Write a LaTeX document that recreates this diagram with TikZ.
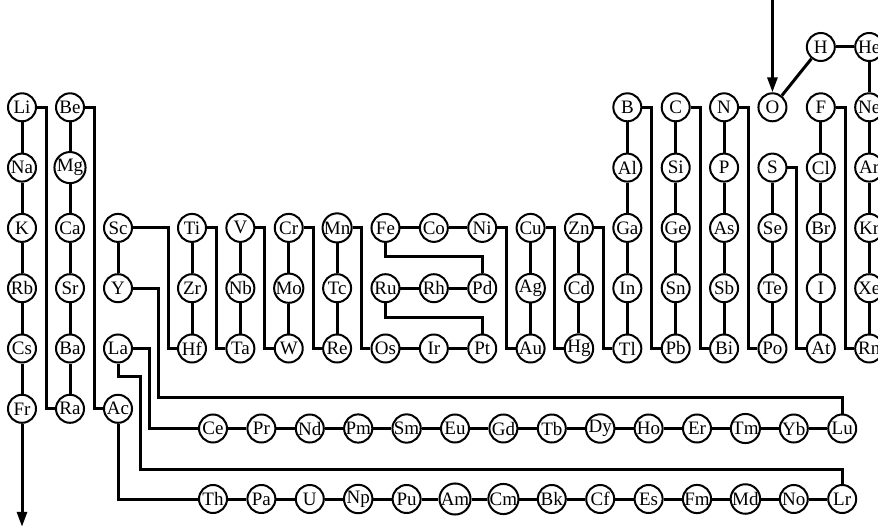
\documentclass[tikz,border=0pt]{standalone}
\usepackage{fontspec}
\setmainfont{Liberation Serif}
\usetikzlibrary{arrows.meta}

\begin{document}
\begin{tikzpicture}[x=1pt, y=-1pt,
  declare function={colx(\c)=(\c<4)*(22+48*(\c-1))+(\c>=4)*(192+48.37*(\c-4)); rowy(\r)=47+60.3*(\r-1);},
  atom/.style={draw, circle, line width=2pt, minimum size=28pt, inner sep=0pt, fill=white, font=\fontsize{19}{19}\selectfont},
  link/.style={line width=3pt},
  arr/.style={link, -{Triangle[length=15pt, width=10pt]}}]
\useasboundingbox (0,0) rectangle (878,529);

% main table
\node[atom] (H) at ({colx(17)}, {rowy(1)}) {H};
\node[atom] (He) at ({colx(18)}, {rowy(1)}) {He};
\foreach \el/\c in {Li/1, Be/2, B/13, C/14, N/15, O/16, F/17, Ne/18}
  \node[atom] (\el) at ({colx(\c)}, {rowy(2)}) {\el};
\foreach \el/\c in {Na/1, Mg/2, Al/13, Si/14, P/15, S/16, Cl/17, Ar/18}
  \node[atom] (\el) at ({colx(\c)}, {rowy(3)}) {\el};
\foreach \el [count=\c] in {K,Ca,Sc,Ti,V,Cr,Mn,Fe,Co,Ni,Cu,Zn,Ga,Ge,As,Se,Br,Kr}
  \node[atom] (\el) at ({colx(\c)}, {rowy(4)}) {\el};
\foreach \el [count=\c] in {Rb,Sr,Y,Zr,Nb,Mo,Tc,Ru,Rh,Pd,Ag,Cd,In,Sn,Sb,Te,I,Xe}
  \node[atom] (\el) at ({colx(\c)}, {rowy(5)}) {\el};
\foreach \el [count=\c] in {Cs,Ba,La,Hf,Ta,W,Re,Os,Ir,Pt,Au,Hg,Tl,Pb,Bi,Po,At,Rn}
  \node[atom] (\el) at ({colx(\c)}, {rowy(6)}) {\el};
\foreach \el/\c in {Fr/1, Ra/2, Ac/3}
  \node[atom] (\el) at ({colx(\c)}, {rowy(7)}) {\el};

% lanthanides and actinides
\foreach \el [count=\k from 0] in {Ce,Pr,Nd,Pm,Sm,Eu,Gd,Tb,Dy,Ho,Er,Tm,Yb,Lu}
  \node[atom] (\el) at (213+48.4*\k, 428.5) {\el};
\foreach \el [count=\k from 0] in {Th,Pa,U,Np,Pu,Am,Cm,Bk,Cf,Es,Fm,Md,No,Lr}
  \node[atom] (\el) at (213+48.4*\k, 499) {\el};

\coordinate (entry) at (O |- 0,0);
\path (Fr) ++(0,118) coordinate (exit);

% columns
\foreach \a/\b in {Li/Na, Na/K, K/Rb, Rb/Cs, Cs/Fr, Be/Mg, Mg/Ca, Ca/Sr, Sr/Ba, Ba/Ra,
    Sc/Y, Ti/Zr, Zr/Hf, V/Nb, Nb/Ta, Cr/Mo, Mo/W, Mn/Tc, Tc/Re, Cu/Ag, Ag/Au, Zn/Cd, Cd/Hg,
    B/Al, Al/Ga, Ga/In, In/Tl, C/Si, Si/Ge, Ge/Sn, Sn/Pb, N/P, P/As, As/Sb, Sb/Bi,
    S/Se, Se/Te, Te/Po, F/Cl, Cl/Br, Br/I, I/At, He/Ne, Ne/Ar, Ar/Kr, Kr/Xe, Xe/Rn,
    Fe/Co, Co/Ni, Ru/Rh, Rh/Pd, Os/Ir, Ir/Pt, H/He, O/H}
  \draw[link] (\a) -- (\b);
\foreach \el [remember=\el as \prev (initially Ce)] in {Pr,Nd,Pm,Sm,Eu,Gd,Tb,Dy,Ho,Er,Tm,Yb,Lu}
  \draw[link] (\prev) -- (\el);
\foreach \el [remember=\el as \prev (initially Th)] in {Pa,U,Np,Pu,Am,Cm,Bk,Cf,Es,Fm,Md,No,Lr}
  \draw[link] (\prev) -- (\el);

% jumps between groups
\foreach \a/\b in {Ra/Li, Ac/Be, Hf/Sc, Ta/Ti, W/V, Re/Cr, Os/Mn, Au/Ni, Hg/Cu,
    Tl/Zn, Pb/B, Bi/C, Po/N, At/S, Rn/F}
  \draw[link] (\a) -- ++(-24,0) |- (\b);
\draw[link] (Fe) -- ++(0,29) -| (Pd);
\draw[link] (Ru) -- ++(0,29) -| (Pt);
\draw[link] (Y) -- ++(40,0) -- ++(0,109) -| (Lu);
\draw[link] (Ce) -- ++(-64,0) |- (La);
\draw[link] (La) -- ++(0,28) -- ++(22,0) -- ++(0,93) -| (Lr);
\draw[link] (Ac) |- (Th);

\draw[arr] (entry) -- (O);
\draw[arr] (Fr) -- (exit);
\end{tikzpicture}
\end{document}
